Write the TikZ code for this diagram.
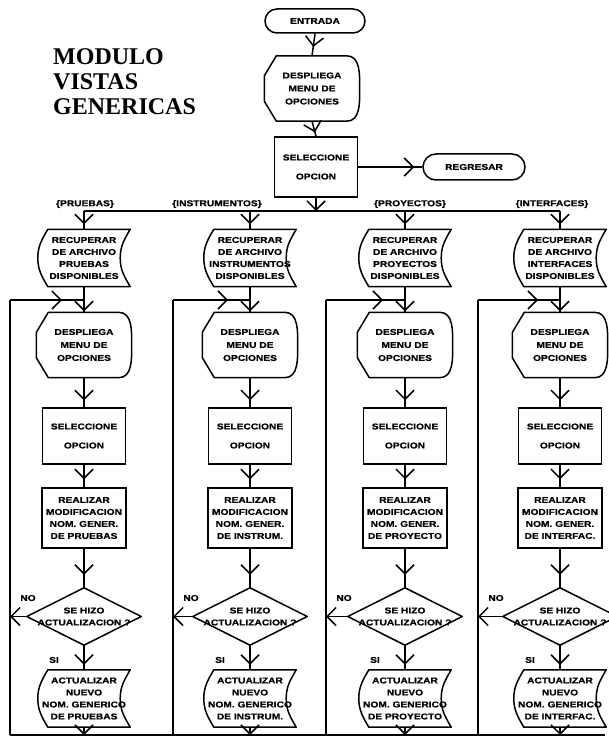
\documentclass[tikz,border=0pt]{standalone}
\usepackage{fontspec}
\setmainfont{Liberation Serif}
\newfontfamily\flowfont{Liberation Sans}[FakeStretch=1.2, BoldFeatures={FakeBold=0.8}]
\usetikzlibrary{arrows.meta,decorations.markings}

% outline of a display symbol (cut left side, rounded right side)
\newcommand{\displayoutline}[1]{%
  \draw[outline] ([xshift=12pt]#1.north west) -- ([xshift=-13pt]#1.north east)
    to[out=0,in=90] (#1.east) to[out=-90,in=0] ([xshift=-13pt]#1.south east)
    -- ([xshift=12pt]#1.south west) -- ([yshift=20pt]#1.south west)
    -- ([yshift=-20pt]#1.north west) -- cycle;}
% outline of a stored-data symbol (both sides curved the same way)
\newcommand{\storedoutline}[1]{%
  \draw[outline] ([xshift=10pt]#1.north west) -- (#1.north east)
    to[out=-120,in=90] ([xshift=-10pt]#1.east) to[out=-90,in=120] (#1.south east)
    -- ([xshift=10pt]#1.south west)
    to[out=120,in=-90] (#1.west) to[out=90,in=-120] cycle;}
% outline of a decision symbol
\newcommand{\diamondoutline}[1]{%
  \draw[outline] (#1.north) -- (#1.east) -- (#1.south) -- (#1.west) -- cycle;}

\tikzset{
  outline/.style={line width=1.5pt, line join=round},
  txt/.style={font={\flowfont\bfseries\fontsize{8.5pt}{12pt}\selectfont},
    align=center, inner sep=0pt},
  terminal/.style={txt, draw, line width=1.5pt, rounded corners=12pt,
    minimum width=100pt, minimum height=24pt},
  disp/.style={txt, minimum width=95pt, minimum height=65pt,
    font={\flowfont\bfseries\fontsize{8.5pt}{13pt}\selectfont}},
  proc/.style={txt, draw, line width=1.5pt, minimum width=83pt, minimum height=56pt,
    font={\flowfont\bfseries\fontsize{8.5pt}{19pt}\selectfont}},
  procb/.style={txt, draw, line width=1.5pt, minimum width=84pt, minimum height=60pt},
  stored/.style={txt, minimum width=92pt, minimum height=57pt},
  decision/.style={txt, minimum width=114pt, minimum height=57pt},
  branch/.style={txt},
  small/.style={txt},
  title/.style={font={\bfseries\fontsize{24pt}{25pt}\selectfont}, inner sep=0pt,
    anchor=base west},
  line/.style={line width=1.5pt},
  vtip/.tip={Straight Barb[length=9pt,width=18pt]},
  endtip/.style={line, -{vtip}},
  flow/.style={line, postaction={decorate},
    decoration={markings, mark=at position -#1 with {\arrow{vtip}}}},
  flow/.default=6pt
}

\begin{document}
\begin{tikzpicture}[x=1pt,y=-1pt]
\useasboundingbox (0,0) rectangle (609,743);

% title
\node[title] (title1) at (53,65) {MODULO};
\node[title] (title2) at (53,90) {VISTAS};
\node[title] (title3) at (53,115) {GENERICAS};

% entry part
\node[terminal] (entrada) at (315,21) {ENTRADA};
\node[disp] (desp0) at (312,88.5) {DESPLIEGA\\MENU DE\\OPCIONES};
\displayoutline{desp0}
\node[proc, minimum height=60pt] (sel0) at (316,167) {SELECCIONE\\OPCION};
\node[terminal, minimum width=102pt, minimum height=26pt, rounded corners=13pt]
  (regresar) at (474,167) {REGRESAR};

\draw[flow=9pt] (entrada.south) -- (desp0.north);
\draw[flow=4pt] (desp0.south) -- (sel0.north);
\draw[flow=8pt] (sel0.east) -- (regresar.west);

% branch bus
\coordinate (busL) at (84,211);
\coordinate (busR) at (560,211);
\draw[line] (busL) -- (busR);
\draw[endtip] (sel0.south) -- (sel0.south |- busL);

% bottom return line
\coordinate (bottomL) at (10,735);
\coordinate (bottomR) at (605,735);
\draw[line] (bottomL) -- (bottomR);

% the four option columns
\foreach \i/\cx/\lx/\lbx/\what/\short in {
  1/84/10/85/PRUEBAS/PRUEBAS,
  2/250/173/217/INSTRUMENTOS/INSTRUM.,
  3/405/326/410/PROYECTOS/PROYECTO,
  4/560/478/552/INTERFACES/INTERFAC.}{
  \node[branch] (tag\i) at (\lbx,204) {\{\what\}};
  \node[stored] (rec\i) at (\cx,258) {RECUPERAR\\DE ARCHIVO\\\what\\DISPONIBLES};
  \storedoutline{rec\i}
  \node[disp] (desp\i) at (\cx,345) {DESPLIEGA\\MENU DE\\OPCIONES};
  \displayoutline{desp\i}
  \node[proc] (sel\i) at (\cx,436) {SELECCIONE\\OPCION};
  \node[procb] (real\i) at (\cx,518) {REALIZAR\\MODIFICACION\\NOM. GENER.\\DE \short};
  \node[decision] (dia\i) at (\cx,616.5) {SE HIZO\\ACTUALIZACION ?};
  \diamondoutline{dia\i}
  \node[stored] (act\i) at (\cx,698.5) {ACTUALIZAR\\NUEVO\\NOM. GENERICO\\DE \short};
  \storedoutline{act\i}
  \node[small] (no\i) at (\lx+18,598) {NO};
  \node[small] (si\i) at (\cx-30,660) {SI};
  \coordinate (ltop\i) at (\lx,300);
  \coordinate (lbot\i) at (\lx,735);

  \draw[flow=5pt] (rec\i.north |- busL) -- (rec\i.north);
  \draw[flow=1pt] (rec\i.south) -- (desp\i.north);
  \draw[line] (lbot\i) -- (ltop\i);
  \draw[flow=22pt] (ltop\i) -- (ltop\i -| rec\i.south);
  \draw[flow=7pt] (desp\i.south) -- (sel\i.north);
  \draw[flow=8pt] (sel\i.south) -- (real\i.north);
  \draw[flow=13pt] (real\i.south) -- (dia\i.north);
  \draw[flow=5pt] (dia\i.south) -- (act\i.north);
  \draw[endtip] (dia\i.west) -- (dia\i.west -| ltop\i);
  \draw[endtip] (act\i.south) -- (act\i.south |- lbot\i);
}
\end{tikzpicture}
\end{document}
